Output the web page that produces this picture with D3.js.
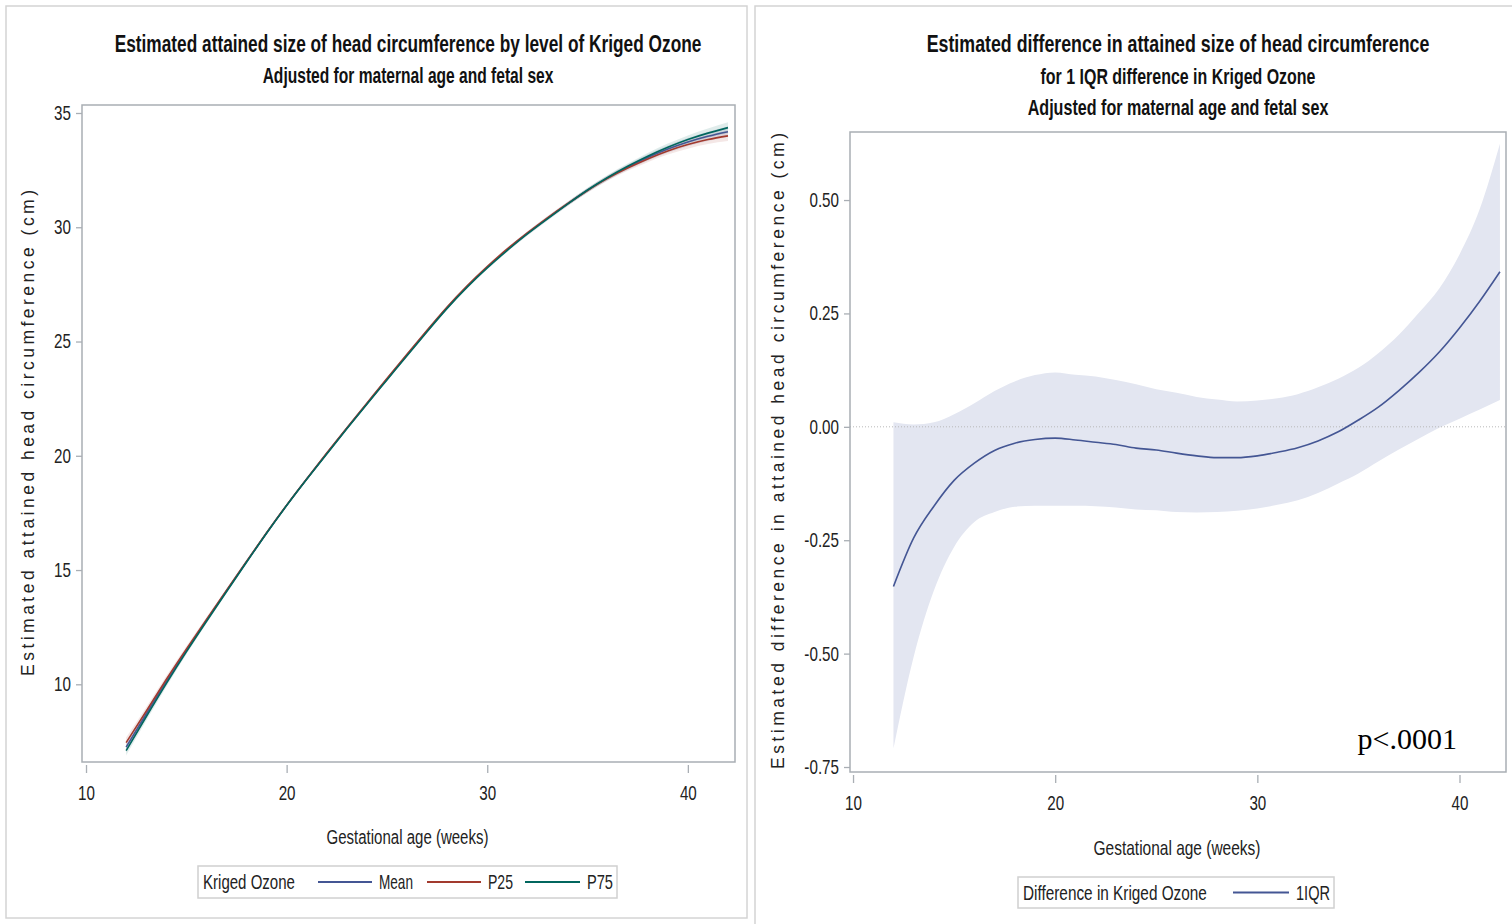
<!DOCTYPE html>
<html>
<head>
<meta charset="utf-8">
<script src="https://cdn.jsdelivr.net/npm/d3@7"></script>
<style>
  body { margin: 0; background: #fff; }
  svg { display: block; }
</style>
</head>
<body>
<svg id="chart" width="1512" height="924"></svg>
<script>
// ---- data -------------------------------------------------------------
const weeks = [12,13,14,15,16,17,18,19,20,21,22,23,24,25,26,27,28,29,30,31,32,33,34,35,36,37,38,39,40,41,42];

// Attained head circumference (cm) by ozone level
const meanHC = [7.25,8.70,10.12,11.48,12.79,14.08,15.36,16.62,17.83,18.98,20.10,21.20,22.28,23.35,24.41,25.46,26.48,27.41,28.25,29.02,29.73,30.39,31.02,31.62,32.16,32.63,33.05,33.42,33.73,33.98,34.18];
const p25HC  = [7.45,8.82,10.21,11.54,12.83,14.11,15.38,16.63,17.84,18.99,20.12,21.22,22.30,23.38,24.44,25.49,26.51,27.44,28.28,29.05,29.75,30.41,31.03,31.61,32.14,32.59,32.99,33.34,33.62,33.84,34.00];
const p75HC  = [7.10,8.58,10.03,11.42,12.75,14.05,15.34,16.61,17.82,18.97,20.08,21.18,22.26,23.32,24.38,25.43,26.45,27.38,28.22,28.99,29.71,30.37,31.01,31.63,32.18,32.67,33.11,33.50,33.84,34.12,34.36];
// pointwise confidence half-width (cm) around each curve
const ciHalfWidth = [0.22,0.18,0.15,0.12,0.10,0.08,0.07,0.06,0.06,0.06,0.06,0.06,0.06,0.06,0.06,0.06,0.06,0.06,0.07,0.07,0.08,0.08,0.09,0.10,0.11,0.12,0.14,0.16,0.18,0.20,0.23];

// Difference per 1 IQR of ozone (cm) with confidence limits
const diffEst   = [-0.352,-0.245,-0.175,-0.118,-0.080,-0.052,-0.036,-0.028,-0.025,-0.029,-0.034,-0.039,-0.047,-0.051,-0.058,-0.064,-0.068,-0.068,-0.064,-0.056,-0.046,-0.031,-0.011,0.015,0.044,0.080,0.120,0.165,0.218,0.277,0.342];
const diffUpper = [0.010,0.005,0.010,0.028,0.052,0.079,0.100,0.114,0.120,0.115,0.111,0.103,0.094,0.083,0.075,0.066,0.060,0.056,0.058,0.063,0.072,0.087,0.106,0.130,0.163,0.203,0.252,0.305,0.380,0.480,0.624];
const diffLower = [-0.709,-0.507,-0.361,-0.265,-0.210,-0.188,-0.176,-0.174,-0.174,-0.174,-0.175,-0.178,-0.182,-0.184,-0.188,-0.189,-0.188,-0.185,-0.180,-0.172,-0.162,-0.146,-0.125,-0.103,-0.076,-0.050,-0.026,-0.002,0.018,0.038,0.059];

const xTicks = [10, 20, 30, 40];
const leftYTicks = [10, 15, 20, 25, 30, 35];
const rightYTicks = [-0.75, -0.50, -0.25, 0.00, 0.25, 0.50];

const seriesNames = ["Mean", "P25", "P75"];
const seriesColors = ["#445694", "#A23A2E", "#01665E"];
const seriesValues = [meanHC, p25HC, p75HC];

// ---- styling ------------------------------------------------------------
const SANS = "'Liberation Sans',Arial,sans-serif";
const frameColor = "#a9aeb4";
const textColor = "#222";
const NARROW_F = 0.76;   // horizontal squeeze giving a condensed face

const svg = d3.select("#chart");

// squeeze text horizontally about its anchor point
function condense(sel, f) {
  sel.each(function () {
    const t = d3.select(this);
    const x = +t.attr("x") || 0, y = +t.attr("y") || 0;
    t.attr("x", 0).attr("y", 0).attr("transform", `translate(${x},${y}) scale(${f},1)`);
  });
  return sel;
}
function fitWidth(sel, w) {
  return condense(sel, w / sel.node().getComputedTextLength());
}

// panel outlines
svg.append("rect").attr("x", 6).attr("y", 6).attr("width", 741).attr("height", 912)
  .attr("fill", "none").attr("stroke", "#d4d4d4").attr("stroke-width", 1.5);
svg.append("rect").attr("x", 755).attr("y", 6).attr("width", 770).attr("height", 930)
  .attr("fill", "none").attr("stroke", "#d4d4d4").attr("stroke-width", 1.5);

function title(x, y, text, size, width) {
  const t = svg.append("text").attr("x", x).attr("y", y).attr("text-anchor", "middle")
    .attr("font-family", SANS).attr("font-weight", "bold").attr("font-size", size)
    .attr("fill", "#111").text(text);
  fitWidth(t, width);
}

const hyphenFmt = fmt => d => fmt(d).replace("\u2212", "-");

function axisFrame(g, x, y, yFmt, opts) {
  const [x0, x1] = x.range();
  const [y0, y1] = y.range();
  g.append("rect").attr("x", x0).attr("y", y1).attr("width", x1 - x0).attr("height", y0 - y1)
    .attr("fill", "none").attr("stroke", frameColor).attr("stroke-width", 1.5);

  const ya = g.append("g").attr("transform", `translate(${x0},0)`)
    .call(d3.axisLeft(y).tickValues(opts.yTicks).tickSize(6).tickPadding(5).tickFormat(yFmt));
  ya.select(".domain").remove();
  ya.selectAll(".tick line").attr("stroke", frameColor).attr("stroke-width", 1.3);
  condense(ya.selectAll(".tick text").attr("font-family", SANS).attr("font-size", 20)
    .attr("fill", textColor), NARROW_F);

  const xa = g.append("g").attr("transform", `translate(0,${y0 + 3})`)
    .call(d3.axisBottom(x).tickValues(xTicks).tickSize(8).tickPadding(13).tickFormat(d3.format("d")));
  xa.select(".domain").remove();
  xa.selectAll(".tick line").attr("stroke", frameColor).attr("stroke-width", 1.3);
  condense(xa.selectAll(".tick text").attr("font-family", SANS).attr("font-size", 20)
    .attr("fill", textColor), NARROW_F);

  const xt = g.append("text").attr("x", (x0 + x1) / 2 + opts.xTitleDx).attr("y", opts.xTitleY)
    .attr("text-anchor", "middle").attr("font-family", SANS).attr("font-size", 21)
    .attr("fill", textColor).text("Gestational age (weeks)");
  fitWidth(xt, opts.xTitleW);

  g.append("text").attr("transform", `translate(${opts.yTitleX},${opts.yTitleCy}) rotate(-90)`)
    .attr("text-anchor", "middle").attr("font-family", SANS).attr("font-size", 17.5)
    .attr("fill", textColor).attr("textLength", opts.yTitleLen).attr("lengthAdjust", "spacing")
    .text(opts.yTitle);
}

function legend(g, x, y, w, h, heading, headingW, items) {
  g.append("rect").attr("x", x).attr("y", y).attr("width", w).attr("height", h)
    .attr("fill", "#fff").attr("stroke", "#d0d0d0").attr("stroke-width", 1.5);
  const cy = y + h / 2;
  fitWidth(g.append("text").attr("x", x + 5).attr("y", cy + 7).attr("font-family", SANS)
    .attr("font-size", 20).attr("fill", textColor).text(heading), headingW);
  items.forEach(it => {
    g.append("line").attr("x1", it.x).attr("x2", it.x + it.len).attr("y1", cy).attr("y2", cy)
      .attr("stroke", it.color).attr("stroke-width", 2);
    fitWidth(g.append("text").attr("x", it.x + it.len + 7).attr("y", cy + 7).attr("font-family", SANS)
      .attr("font-size", 20).attr("fill", textColor).text(it.label), it.w);
  });
}

// ---- left panel: attained size by ozone level ----------------------------
title(408, 52, "Estimated attained size of head circumference by level of Kriged Ozone", 24, 587);
title(408, 83, "Adjusted for maternal age and fetal sex", 22, 291);

const xL = d3.scaleLinear().domain([9.8, 42.35]).range([82, 735]);
const yL = d3.scaleLinear().domain([6.6, 35.35]).range([762, 105]);
const gL = svg.append("g");

const bandL = d3.area().curve(d3.curveNatural)
  .x((d, i) => xL(weeks[i]))
  .y0((d, i) => yL(d - ciHalfWidth[i]))
  .y1((d, i) => yL(d + ciHalfWidth[i]));
const lineL = d3.line().curve(d3.curveNatural)
  .x((d, i) => xL(weeks[i])).y(d => yL(d));

seriesValues.forEach((vals, k) => {
  gL.append("path").datum(vals).attr("d", bandL)
    .attr("fill", seriesColors[k]).attr("fill-opacity", 0.12).attr("stroke", "none");
});
seriesValues.forEach((vals, k) => {
  gL.append("path").datum(vals).attr("d", lineL)
    .attr("fill", "none").attr("stroke", seriesColors[k]).attr("stroke-width", 1.6);
});

axisFrame(gL, xL, yL, d3.format("d"), {
  yTicks: leftYTicks, xTitleY: 844, xTitleDx: -1, xTitleW: 162,
  yTitle: "Estimated attained head circumference (cm)", yTitleX: 34, yTitleCy: 433, yTitleLen: 486
});

legend(gL, 198, 866, 419, 32, "Kriged Ozone", 92, [
  { x: 318, len: 54, color: seriesColors[0], label: seriesNames[0], w: 34 },
  { x: 427, len: 54, color: seriesColors[1], label: seriesNames[1], w: 25 },
  { x: 525, len: 55, color: seriesColors[2], label: seriesNames[2], w: 26 }
]);

// ---- right panel: difference per 1 IQR -----------------------------------
title(1178, 52, "Estimated difference in attained size of head circumference", 24, 503);
title(1178, 84, "for 1 IQR difference in Kriged Ozone", 22, 275);
title(1178, 115, "Adjusted for maternal age and fetal sex", 22, 301);

const xR = d3.scaleLinear().domain([9.85, 42.3]).range([850, 1506]);
const yR = d3.scaleLinear().domain([-0.761, 0.65]).range([772, 132]);
const gR = svg.append("g");

gR.append("path").datum(diffEst)
  .attr("d", d3.area().curve(d3.curveMonotoneX)
    .x((d, i) => xR(weeks[i]))
    .y0((d, i) => yR(diffLower[i]))
    .y1((d, i) => yR(diffUpper[i])))
  .attr("fill", "#e3e6f1").attr("stroke", "none");

// reference line at zero difference
gR.append("line").attr("x1", xR.range()[0]).attr("x2", xR.range()[1])
  .attr("y1", yR(0)).attr("y2", yR(0))
  .attr("stroke", "#b8b8b8").attr("stroke-width", 1).attr("stroke-dasharray", "1,2");

gR.append("path").datum(diffEst)
  .attr("d", d3.line().curve(d3.curveMonotoneX).x((d, i) => xR(weeks[i])).y(d => yR(d)))
  .attr("fill", "none").attr("stroke", "#445694").attr("stroke-width", 1.6);

axisFrame(gR, xR, yR, hyphenFmt(d3.format(".2f")), {
  yTicks: rightYTicks, xTitleY: 855, xTitleDx: -1, xTitleW: 167,
  yTitle: "Estimated difference in attained head circumference (cm)", yTitleX: 784, yTitleCy: 451, yTitleLen: 636
});

gR.append("text").attr("x", 1457).attr("y", 749).attr("text-anchor", "end")
  .attr("font-family", "'Liberation Serif','Times New Roman',serif").attr("font-size", 30)
  .attr("fill", "#000").text("p<.0001");

legend(gR, 1018, 877, 316, 31, "Difference in Kriged Ozone", 184, [
  { x: 1233, len: 56, color: "#445694", label: "1IQR", w: 34 }
]);
</script>
</body>
</html>
